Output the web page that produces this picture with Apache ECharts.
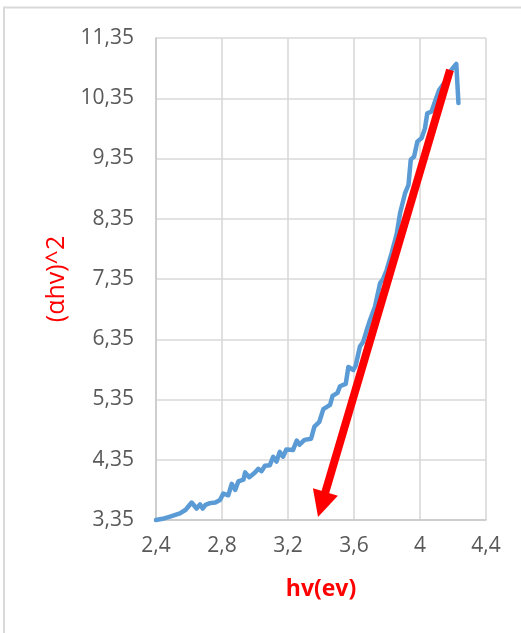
<!DOCTYPE html>
<html>
<head>
<meta charset="utf-8">
<script src="https://cdn.jsdelivr.net/npm/echarts@6/dist/echarts.min.js"></script>
<style>
  html, body { margin: 0; padding: 0; background: #fff; }
  #chart { width: 521px; height: 633px; }
</style>
</head>
<body>
<div id="chart"></div>
<script>
// Photon energy hv (eV) and (αhv)^2 absorption curve
const hv = [
  2.40, 2.44, 2.485, 2.545, 2.58, 2.616, 2.646, 2.667, 2.683, 2.70, 2.727, 2.76, 2.788,
  2.808, 2.838, 2.859, 2.88, 2.899, 2.93, 2.94, 2.965, 3.00, 3.02, 3.04, 3.06,
  3.09, 3.11, 3.13, 3.15, 3.17, 3.19, 3.23, 3.253, 3.27, 3.30, 3.34, 3.36,
  3.39, 3.414, 3.455, 3.47, 3.50, 3.515, 3.55, 3.566, 3.596, 3.61, 3.636,
  3.656, 3.677, 3.697, 3.727, 3.758, 3.778, 3.798, 3.828, 3.859, 3.879,
  3.909, 3.93, 3.944, 3.964, 3.984, 4.01, 4.03, 4.044, 4.07, 4.09, 4.115,
  4.16, 4.19, 4.22, 4.233
];
const ahv2 = [
  3.35, 3.37, 3.405, 3.46, 3.52, 3.64, 3.54, 3.61, 3.54, 3.60, 3.63, 3.64, 3.68,
  3.79, 3.76, 3.95, 3.85, 3.99, 4.02, 4.14, 4.06, 4.14, 4.20, 4.16, 4.25,
  4.26, 4.40, 4.32, 4.48, 4.40, 4.52, 4.51, 4.67, 4.60, 4.68, 4.70, 4.90,
  4.98, 5.19, 5.26, 5.41, 5.46, 5.57, 5.61, 5.89, 5.84, 5.91, 6.23,
  6.31, 6.50, 6.67, 6.89, 7.28, 7.36, 7.50, 7.78, 8.10, 8.44,
  8.77, 8.91, 9.33, 9.38, 9.63, 9.69, 9.85, 10.10, 10.13, 10.29, 10.48,
  10.65, 10.82, 10.92, 10.27
];

// Tangent extrapolation arrow (hv, (αhv)^2): tail and head
const arrowFrom = [4.182, 10.82];
const arrowTo = [3.382, 3.40];

// Axis ranges and tick steps
const xMin = 2.4, xMax = 4.4, xStep = 0.4;
const yMin = 3.35, yMax = 11.35, yStep = 1;

const fontFamily = '"Open Sans", "DejaVu Sans", sans-serif';
const tickColor = '#595959';

const chart = echarts.init(document.getElementById('chart'), null, { renderer: 'canvas' });

const fmtX = v => {
  const s = (Math.round(v * 10) / 10).toString();
  return s.replace('.', ',');
};
const fmtY = v => v.toFixed(2).replace('.', ',');

const curve = hv.map((x, i) => [x, ahv2[i]]);

chart.setOption({
  animation: false,
  backgroundColor: '#ffffff',
  grid: { left: 156, right: 35, top: 38, bottom: 113, containLabel: false },
  xAxis: {
    type: 'value',
    min: xMin, max: xMax, interval: xStep,
    name: 'hv(ev)',
    nameLocation: 'middle',
    nameGap: 58,
    nameTextStyle: { color: '#ff0000', fontSize: 23, fontWeight: 'bold', fontFamily },
    axisLine: { show: true, lineStyle: { color: '#c8c8c8', width: 1.5 } },
    axisTick: { show: false },
    axisLabel: { color: tickColor, fontSize: 21, fontFamily, margin: 16, formatter: fmtX },
    splitLine: { show: true, lineStyle: { color: '#d9d9d9', width: 1.6 } }
  },
  yAxis: {
    type: 'value',
    min: yMin, max: yMax, interval: yStep,
    name: '(αhv)^2',
    nameLocation: 'middle',
    nameGap: 86,
    nameRotate: 90,
    nameTextStyle: { color: '#ff0000', fontSize: 25, fontFamily },
    axisLine: { show: true, lineStyle: { color: '#c8c8c8', width: 1.5 } },
    axisTick: { show: false },
    axisLabel: { color: tickColor, fontSize: 21, fontFamily, margin: 22, formatter: fmtY },
    splitLine: { show: true, lineStyle: { color: '#d9d9d9', width: 1.6 } }
  },
  series: [
    {
      type: 'line',
      data: curve,
      showSymbol: false,
      smooth: false,
      clip: false,
      lineStyle: { color: '#5b9bd5', width: 4.5, join: 'round', cap: 'round' },
      z: 2
    },
    {
      // Red extrapolation arrow: shaft plus triangular head, placed via the axes
      type: 'custom',
      coordinateSystem: 'cartesian2d',
      data: [[arrowFrom[0], arrowFrom[1], arrowTo[0], arrowTo[1]]],
      clip: false,
      z: 5,
      renderItem: function (params, api) {
        const p0 = api.coord([api.value(0), api.value(1)]);
        const p1 = api.coord([api.value(2), api.value(3)]);
        const dx = p1[0] - p0[0], dy = p1[1] - p0[1];
        const len = Math.sqrt(dx * dx + dy * dy);
        const ux = dx / len, uy = dy / len;
        const nx = -uy, ny = ux;
        const headLen = 26, headHalf = 13;
        const base = [p1[0] - ux * headLen, p1[1] - uy * headLen];
        const shaftEnd = [p1[0] - ux * (headLen - 2), p1[1] - uy * (headLen - 2)];
        return {
          type: 'group',
          children: [
            {
              type: 'line',
              shape: { x1: p0[0], y1: p0[1], x2: shaftEnd[0], y2: shaftEnd[1] },
              style: { stroke: '#ff0000', lineWidth: 8 }
            },
            {
              type: 'polygon',
              shape: {
                points: [
                  [p1[0], p1[1]],
                  [base[0] + nx * headHalf, base[1] + ny * headHalf],
                  [base[0] - nx * headHalf, base[1] - ny * headHalf]
                ]
              },
              style: { fill: '#ff0000' }
            }
          ]
        };
      }
    }
  ],
  graphic: [
    // Outer chart-area frame (left and top edges)
    { type: 'line', shape: { x1: 4, y1: 7.5, x2: 4, y2: 633 }, style: { stroke: '#d9d9d9', lineWidth: 2 }, silent: true },
    { type: 'line', shape: { x1: 3, y1: 7.5, x2: 521, y2: 7.5 }, style: { stroke: '#d9d9d9', lineWidth: 2 }, silent: true }
  ]
});
</script>
</body>
</html>
